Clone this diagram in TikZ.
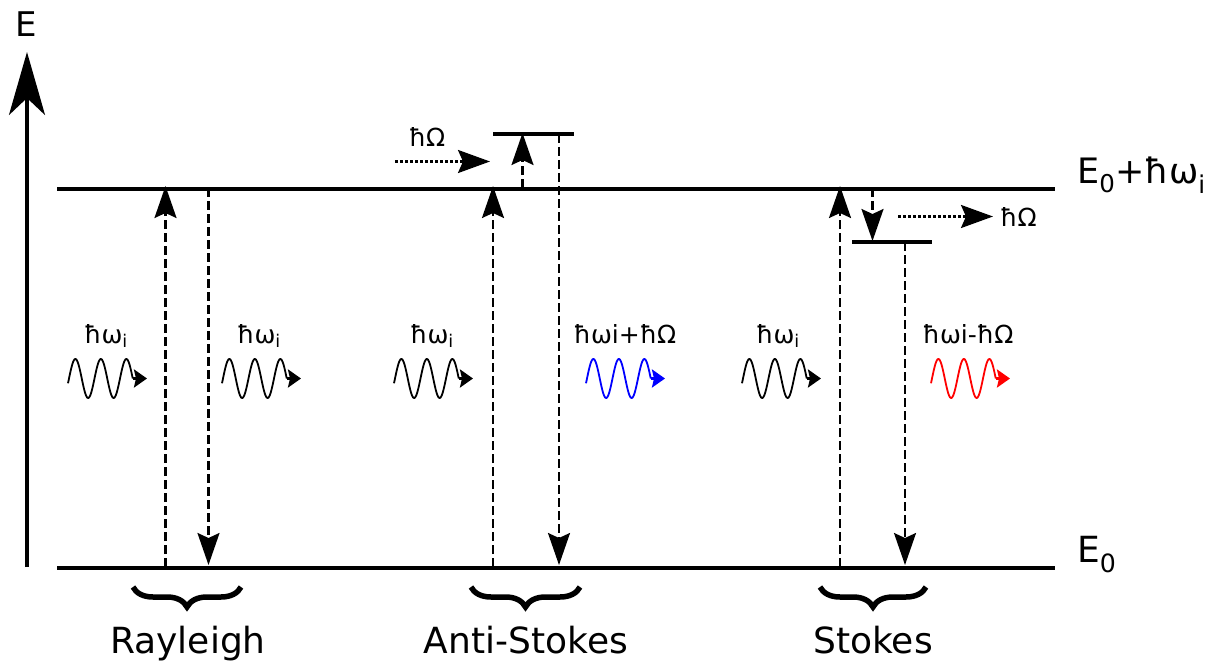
\documentclass[tikz,border=0pt]{standalone}
\usepackage{fontspec}
\setmainfont{DejaVu Sans}
\usetikzlibrary{arrows.meta,decorations.pathreplacing}
\begin{document}
\begin{tikzpicture}[x=1pt,y=-1pt,
  level/.style={line width=4pt},
  axisarrow/.style={line width=3.5pt,-{Stealth[length=63pt,width=36pt,inset=17pt]}},
  dasharrow/.style={line width=2.2pt,dash pattern=on 9pt off 4pt,-{Stealth[length=32pt,width=22pt,inset=5pt]}},
  dotarrow/.style={line width=2.5pt,dash pattern=on 2.5pt off 2.5pt,-{Stealth[length=32pt,width=23pt,inset=5pt]}},
  lbl/.style={font=\fontsize{25}{30}\selectfont,inner sep=0pt,anchor=base},
  big/.style={font=\fontsize{36}{43}\selectfont,inner sep=0pt,anchor=base},
  grp/.style={line width=5.5pt,decorate,decoration={brace,amplitude=20pt,mirror}},
  photon/.pic={
    \draw[line width=1.8pt] plot[domain=-1:63.75,samples=100,smooth] (\x,{-19.5*sin(\x/25.5*360)});
    \draw[line width=2.8pt,-{Stealth[length=13pt,width=18pt,inset=2pt]}] (63.5,0) -- (78,0);
  }]
\useasboundingbox (0,0) rectangle (1221,666);

% axis
\coordinate (axb) at (27,567);
\coordinate (axt) at (27,52);
\draw[axisarrow] (axb) -- (axt);
\node[big,font=\fontsize{34}{40}\selectfont] (E) at (26,37) {E};

% levels
\coordinate (tl) at (57,188.5);
\coordinate (tr) at (1055,188.5);
\coordinate (bl) at (57,567.5);
\coordinate (br) at (1055,567.5);
\draw[level] (tl) -- (tr);
\draw[level] (bl) -- (br);
\node[big,anchor=base west,font=\fontsize{35}{42}\selectfont] (Eup) at (1077,183) {E\textsubscript{0}+ħω\textsubscript{i}};
\node[big,anchor=base west,font=\fontsize{36}{43}\selectfont] (E0) at (1077,562) {E\textsubscript{0}};

% virtual levels
\coordinate (asl) at (493,134.5);
\coordinate (asr) at (574,134.5);
\draw[level] (asl) -- (asr);
\coordinate (stl) at (852,242);
\coordinate (str) at (932,242);
\draw[level] (stl) -- (str);

% Rayleigh
\coordinate (r1b) at (165.5,567);
\coordinate (r1t) at (165.5,186);
\coordinate (r2t) at (208.5,188);
\coordinate (r2b) at (208.5,565);
\draw[dasharrow] (r1b) -- (r1t);
\draw[dasharrow] (r2t) -- (r2b);

% Anti-Stokes
\coordinate (a1b) at (493,567);
\coordinate (a1t) at (493,186);
\coordinate (a2b) at (522.5,188);
\coordinate (a2t) at (522.5,133);
\coordinate (a3t) at (559,134);
\coordinate (a3b) at (559,565);
\draw[dasharrow] (a1b) -- (a1t);
\draw[dasharrow] (a2b) -- (a2t);
\draw[dasharrow] (a3t) -- (a3b);
\coordinate (ad1) at (395,161.5);
\coordinate (ad2) at (490,161.5);
\draw[dotarrow] (ad1) -- (ad2);
\node[lbl] (aO) at (427,147) {ħΩ};

% Stokes
\coordinate (s1b) at (840,567);
\coordinate (s1t) at (840,186);
\coordinate (s2t) at (872.5,188);
\coordinate (s2b) at (872.5,241);
\coordinate (s3t) at (905,242);
\coordinate (s3b) at (905,565);
\draw[dasharrow] (s1b) -- (s1t);
\draw[dasharrow] (s2t) -- (s2b);
\draw[dasharrow] (s3t) -- (s3b);
\coordinate (sd1) at (898,216.5);
\coordinate (sd2) at (993,216.5);
\draw[dotarrow] (sd1) -- (sd2);
\node[lbl,anchor=base west] (sO) at (1000,226) {ħΩ};

% photons
\pic at (69,378.5) {photon};
\pic at (223,378.5) {photon};
\pic at (395,378.5) {photon};
\pic[blue] at (587,378.5) {photon};
\pic at (743,378.5) {photon};
\pic[red] at (932,378.5) {photon};
\node[lbl] (p1) at (106,343) {ħω\textsubscript{i}};
\node[lbl] (p2) at (259,343) {ħω\textsubscript{i}};
\node[lbl] (p3) at (432,343) {ħω\textsubscript{i}};
\node[lbl] (p4) at (625,343) {ħωi+ħΩ};
\node[lbl] (p5) at (778,343) {ħω\textsubscript{i}};
\node[lbl] (p6) at (968,343) {ħωi-ħΩ};

% braces
\coordinate (b1l) at (133,587);
\coordinate (b1r) at (241,587);
\coordinate (b2l) at (471,587);
\coordinate (b2r) at (580,587);
\coordinate (b3l) at (820,587);
\coordinate (b3r) at (926,587);
\draw[grp] (b1l) -- (b1r);
\draw[grp] (b2l) -- (b2r);
\draw[grp] (b3l) -- (b3r);
\node[big] (ray) at (188,653) {Rayleigh};
\node[big] (anti) at (526,653) {Anti-Stokes};
\node[big] (stokes) at (873,653) {Stokes};
\end{tikzpicture}
\end{document}
